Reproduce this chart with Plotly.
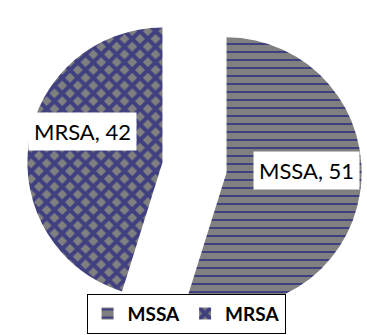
import plotly.graph_objects as go

labels = ["MSSA", "MRSA"]
values = [51, 42]
pulls = [0.24, 0.24]

fig = go.Figure()
fig.add_trace(go.Pie(
    labels=labels,
    values=values,
    sort=False,
    direction="clockwise",
    rotation=0,
    pull=pulls,
    textinfo="none",
    hoverinfo="label+value",
    domain=dict(x=[0.06, 1.0], y=[0.0, 1.0]),
    marker=dict(
        colors=["#808080", "#808080"],
        line=dict(width=0),
        pattern=dict(
            shape=["-", "x"],
            fgcolor=["#000080", "#000080"],
            bgcolor=["#808080", "#808080"],
            size=[8, 11],
            solidity=[0.25, 0.6],
            fillmode="overlay",
        ),
    ),
))

label_pos = {"MRSA": (0.224, 0.606), "MSSA": (0.836, 0.49)}
for lab, val in zip(labels, values):
    x, y = label_pos[lab]
    fig.add_annotation(
        x=x, y=y, xref="paper", yref="paper",
        text=f"{lab}, {val}",
        showarrow=False,
        font=dict(family="Lato", size=22, color="#000000"),
        bgcolor="#ffffff",
        borderpad=5,
        xanchor="center", yanchor="middle",
    )

fig.update_layout(
    width=367, height=335,
    margin=dict(l=0, r=0, t=0, b=0),
    paper_bgcolor="#ffffff",
    plot_bgcolor="#ffffff",
    font=dict(family="Lato", size=18, color="#000000"),
    showlegend=True,
    legend=dict(
        orientation="h",
        x=0.507, xanchor="center",
        y=0.004, yanchor="bottom",
        bordercolor="#000000", borderwidth=1,
        bgcolor="#ffffff",
        font=dict(family="Lato", size=19, weight="bold"),
        itemsizing="constant",
    ),
)

fig.write_html("out.html")
